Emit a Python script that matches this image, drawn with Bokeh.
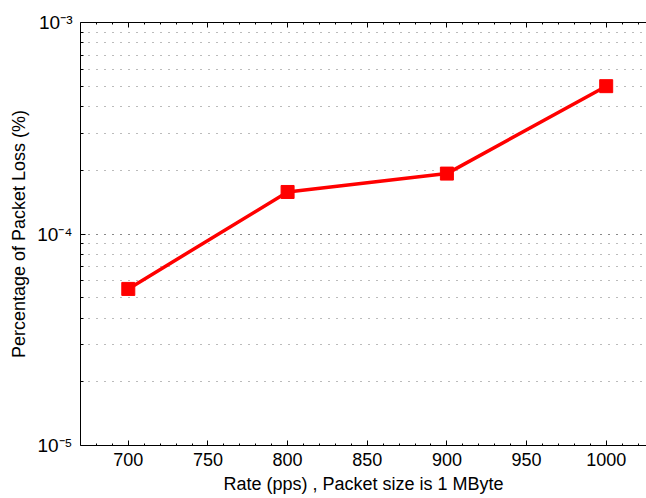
from bokeh.plotting import figure
from bokeh.models import Range1d, FixedTicker, LinearAxis
from bokeh.embed import file_html
from bokeh.resources import INLINE

# ---- data ----
rates = [700, 800, 900, 1000]
loss_pct = [5.5e-5, 1.58e-4, 1.93e-4, 5.0e-4]
x_ticks = [700, 750, 800, 850, 900, 950, 1000]
x_minor = [680, 690, 710, 720, 730, 740, 760, 770, 780, 790, 810, 820, 830, 840,
           860, 870, 880, 890, 910, 920, 930, 940, 960, 970, 980, 990, 1010, 1020]
y_decades = [1e-5, 1e-4, 1e-3]
y_tick_labels = ["10\u207b\u2075", "10\u207b\u2074", "10\u207b\u00b3"]
y_minor = [k * 1e-5 for k in range(2, 10)] + [k * 1e-4 for k in range(2, 10)]
x_label = "Rate (pps) , Packet size is 1 MByte"
y_label = "Percentage of Packet Loss (%)"

FONT = "Liberation Sans"
FS = "18px"
x_start, x_end = 670, 1025.3

p = figure(width=646, height=498, y_axis_type="log",
           x_range=Range1d(x_start, x_end), y_range=Range1d(1e-5, 1e-3),
           output_backend="svg", toolbar_location=None,
           min_border_left=80, min_border_right=0, min_border_top=22, min_border_bottom=53)
p.outline_line_color = None
p.background_fill_color = "white"
p.border_fill_color = "white"

# x axis (bottom)
xa = p.xaxis[0]
xa.ticker = FixedTicker(ticks=x_ticks, minor_ticks=x_minor)
xa.axis_label = x_label
xa.axis_label_text_font = FONT
xa.axis_label_text_font_size = FS
xa.axis_label_text_font_style = "normal"
xa.axis_label_text_color = "black"
xa.axis_label_standoff = 5
xa.major_label_text_font = FONT
xa.major_label_text_font_size = FS
xa.major_label_text_color = "black"
xa.major_label_standoff = 7
xa.major_tick_in = 5
xa.major_tick_out = 0
xa.minor_tick_in = 2
xa.minor_tick_out = 0
xa.axis_line_color = "black"
xa.major_tick_line_color = "black"
xa.minor_tick_line_color = "black"

# top axis (box)
top = LinearAxis(ticker=FixedTicker(ticks=x_ticks, minor_ticks=x_minor),
                 major_label_text_font_size="6px", major_label_text_color=None,
                 major_label_standoff=0,
                 major_tick_in=5, major_tick_out=0, minor_tick_in=2, minor_tick_out=0,
                 axis_line_color="black", major_tick_line_color="black",
                 minor_tick_line_color="black")
p.add_layout(top, "above")

# y axis (left)
ya = p.yaxis[0]
ya.ticker = FixedTicker(ticks=y_decades, minor_ticks=y_minor)
ya.major_label_overrides = {v: s for v, s in zip(y_decades, y_tick_labels)}
ya.major_label_text_font = FONT
ya.major_label_text_font_size = "19px"
ya.major_label_text_color = "black"
ya.major_label_standoff = 8
ya.axis_label = y_label
ya.axis_label_text_font = FONT
ya.axis_label_text_font_size = FS
ya.axis_label_text_font_style = "normal"
ya.axis_label_text_color = "black"
ya.axis_label_standoff = 5
ya.major_tick_in = 5
ya.major_tick_out = 0
ya.minor_tick_in = 3
ya.minor_tick_out = 0
ya.axis_line_color = "black"
ya.major_tick_line_color = "black"
ya.minor_tick_line_color = "black"

# grids
p.xgrid.visible = False
p.ygrid.grid_line_color = "#111111"
p.ygrid.grid_line_dash = "1 7"
p.ygrid.grid_line_width = 1
p.ygrid.minor_grid_line_color = "#777777"
p.ygrid.minor_grid_line_dash = "1 7"
p.ygrid.minor_grid_line_width = 1

# data
p.line(rates, loss_pct, line_color="#ff0000", line_width=3.5)
p.scatter(rates, loss_pct, marker="square", size=13, fill_color="#ff0000",
          line_color="#ff0000")

open("out.html", "w").write(file_html(p, INLINE))
